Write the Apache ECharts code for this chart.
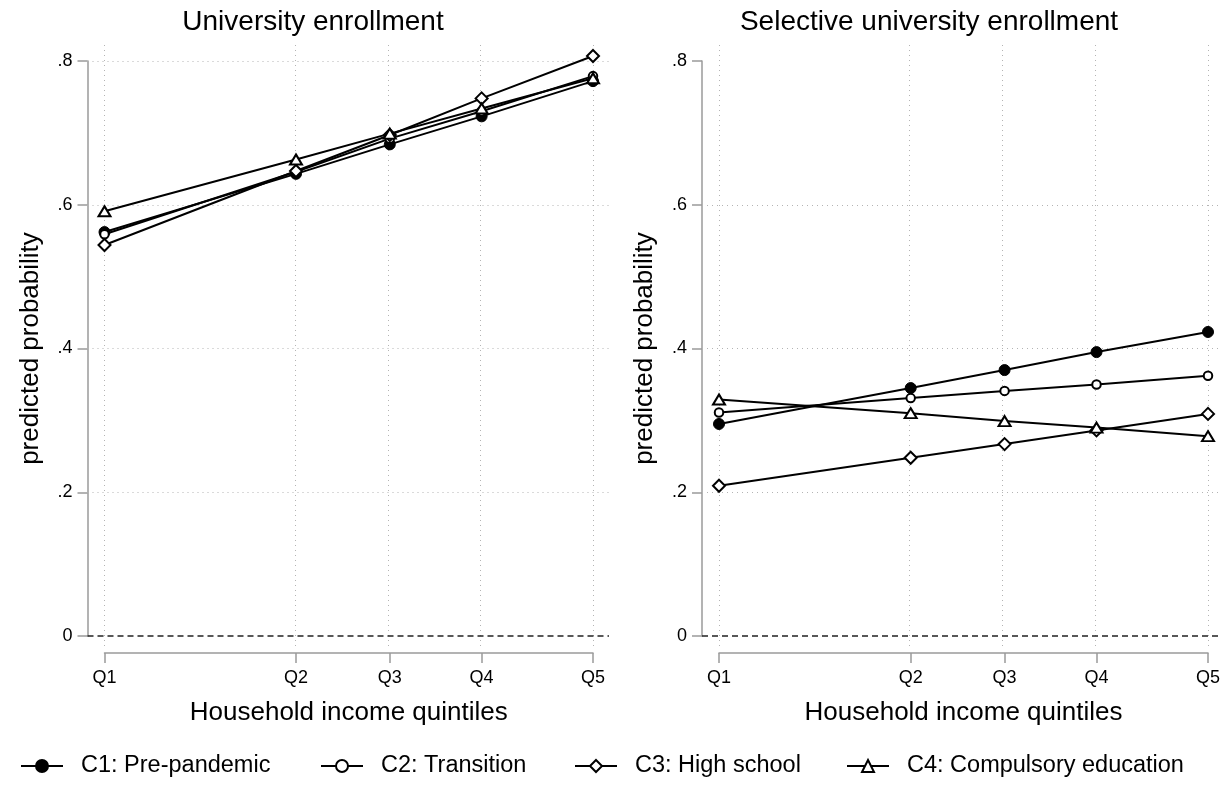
<!DOCTYPE html>
<html>
<head>
<meta charset="utf-8">
<script src="https://cdn.jsdelivr.net/npm/echarts@6/dist/echarts.min.js"></script>
<style>
  html, body { margin: 0; padding: 0; background: #fff; }
  #chart { width: 1232px; height: 793px; }
</style>
</head>
<body>
<div id="chart"></div>
<script>
// Household income quintiles and their place on the horizontal scale (Q1 = 0, Q5 = 1)
const quintiles = ['Q1', 'Q2', 'Q3', 'Q4', 'Q5'];
const quintilePos = [0, 0.392, 0.584, 0.772, 1];
const yTicks = [0, 0.2, 0.4, 0.6, 0.8];

const cohortNames = ['C1: Pre-pandemic', 'C2: Transition', 'C3: High school', 'C4: Compulsory education'];

// Predicted probability of university enrollment
const uniC1 = [0.562, 0.643, 0.684, 0.723, 0.772];
const uniC2 = [0.559, 0.646, 0.692, 0.730, 0.779];
const uniC3 = [0.544, 0.647, 0.697, 0.748, 0.807];
const uniC4 = [0.591, 0.663, 0.699, 0.734, 0.776];

// Predicted probability of selective university enrollment
const selC1 = [0.295, 0.345, 0.370, 0.395, 0.423];
const selC2 = [0.311, 0.331, 0.341, 0.350, 0.362];
const selC3 = [0.209, 0.248, 0.267, 0.286, 0.309];
const selC4 = [0.329, 0.310, 0.299, 0.290, 0.278];

const FONT = '"Liberation Sans", Arial, Helvetica, sans-serif';
const AXIS_GRAY = '#9a9a9a';

// page layout of the two panels (pixels)
const yPixTop = 61;      // y = .8
const yPixZero = 636;    // y = 0
const plotTop = 43;
const plotBottom = 646;
const xAxisLineY = 653;
const panels = [
  { title: 'University enrollment', titleX: 308, axisX: 87.5, q1: 104.5, q5: 593, right: 609,
    series: [uniC1, uniC2, uniC3, uniC4], gridLines: [0.2, 0.4, 0.6, 0.8] },
  { title: 'Selective university enrollment', titleX: 924, axisX: 702, q1: 719, q5: 1208, right: 1222,
    series: [selC1, selC2, selC3, selC4], gridLines: [0.2, 0.4, 0.6] }
];

// marker look for each cohort
const markerStyles = [
  { symbol: 'circle', symbolSize: 11, itemStyle: { color: '#000', borderColor: '#000', borderWidth: 1 } },
  { symbol: 'circle', symbolSize: 8.5, itemStyle: { color: '#fff', borderColor: '#000', borderWidth: 2 } },
  { symbol: 'diamond', symbolSize: 12, itemStyle: { color: '#fff', borderColor: '#000', borderWidth: 2 } },
  { symbol: 'triangle', symbolSize: [12, 10], itemStyle: { color: '#fff', borderColor: '#000', borderWidth: 2 } }
];

const yPerPx = 0.8 / (yPixZero - yPixTop);

const grid = [], xAxis = [], yAxis = [], series = [], title = [];

panels.forEach((p, i) => {
  const span = p.q5 - p.q1;
  // axis frame grid: exactly Q1..Q5 by 0..0.8
  grid.push({ left: p.q1, width: span, top: yPixTop, height: yPixZero - yPixTop });
  // plot region grid holding the lines and the guide lines
  grid.push({ left: p.axisX, width: p.right - p.axisX, top: plotTop, height: plotBottom - plotTop });

  xAxis.push({
    gridIndex: 2 * i, type: 'value', min: 0, max: 1, offset: xAxisLineY - yPixZero,
    axisLine: { show: true, onZero: false, lineStyle: { color: AXIS_GRAY, width: 1.5 } },
    axisTick: { show: true, length: 10, customValues: quintilePos, lineStyle: { color: AXIS_GRAY, width: 1.5 } },
    axisLabel: { customValues: quintilePos, margin: 16, fontSize: 18, color: '#000', fontFamily: FONT,
      formatter: v => quintiles[quintilePos.indexOf(v)] },
    splitLine: { show: false },
    name: 'Household income quintiles', nameLocation: 'middle', nameGap: 47,
    nameTextStyle: { fontSize: 26, color: '#000', fontFamily: FONT }
  });
  yAxis.push({
    gridIndex: 2 * i, type: 'value', min: 0, max: 0.8, interval: 0.2, offset: p.q1 - p.axisX,
    axisLine: { show: true, onZero: false, lineStyle: { color: AXIS_GRAY, width: 1.5 } },
    axisTick: { show: true, length: 10, lineStyle: { color: AXIS_GRAY, width: 1.5 } },
    axisLabel: { margin: 15, fontSize: 18, color: '#000', fontFamily: FONT,
      formatter: v => (v === 0 ? '0' : v.toFixed(1).replace(/^0/, '')) },
    splitLine: { show: false },
    name: 'predicted probability', nameLocation: 'middle', nameGap: 44,
    nameTextStyle: { fontSize: 26, color: '#000', fontFamily: FONT }
  });

  xAxis.push({
    gridIndex: 2 * i + 1, type: 'value', show: false,
    min: -(p.q1 - p.axisX) / span, max: 1 + (p.right - p.q5) / span
  });
  yAxis.push({
    gridIndex: 2 * i + 1, type: 'value', show: false,
    min: -(plotBottom - yPixZero) * yPerPx, max: 0.8 + (yPixTop - plotTop) * yPerPx
  });

  // dotted guide lines at each quintile and tick, dashed reference line at zero
  const dotted = { color: '#b4b4b4', width: 1, type: [1, 4] };
  series.push({
    type: 'line', name: 'guides', xAxisIndex: 2 * i + 1, yAxisIndex: 2 * i + 1,
    data: [], silent: true, z: 1,
    markLine: {
      z: 1, silent: true, symbol: ['none', 'none'], label: { show: false }, animation: false,
      data: quintilePos.map(v => ({ xAxis: v, lineStyle: dotted }))
        .concat(p.gridLines.map(v => ({ yAxis: v, lineStyle: dotted })))
        .concat([{ yAxis: 0, lineStyle: { color: '#222', width: 1.5, type: [6, 4] } }])
    }
  });

  p.series.forEach((vals, k) => {
    series.push(Object.assign({
      type: 'line', name: cohortNames[k], xAxisIndex: 2 * i + 1, yAxisIndex: 2 * i + 1,
      data: vals.map((v, j) => [quintilePos[j], v]),
      lineStyle: { color: '#000', width: 2 }, z: 3 + k, clip: false, showAllSymbol: true,
      emphasis: { disabled: true }
    }, markerStyles[k]));
  });

  title.push({
    text: p.title, left: p.titleX, top: 17, textAlign: 'center', textVerticalAlign: 'middle',
    textStyle: { fontSize: 28, fontWeight: 'normal', color: '#000', fontFamily: FONT }
  });
});

// one legend block per cohort along the bottom
const legendLefts = [20, 320, 574, 846];
const legend = cohortNames.map((name, k) => ({
  data: [name], left: legendLefts[k], top: 754, padding: 0,
  itemWidth: 42, itemHeight: 15, itemGap: 0, selectedMode: false,
  textStyle: { fontSize: 23.5, color: '#000', fontFamily: FONT, padding: [0, 0, 0, 13] }
}));

const chart = echarts.init(document.getElementById('chart'), null, { renderer: 'canvas' });
chart.setOption({
  animation: false,
  backgroundColor: '#fff',
  title, legend, grid, xAxis, yAxis, series
});
</script>
</body>
</html>
